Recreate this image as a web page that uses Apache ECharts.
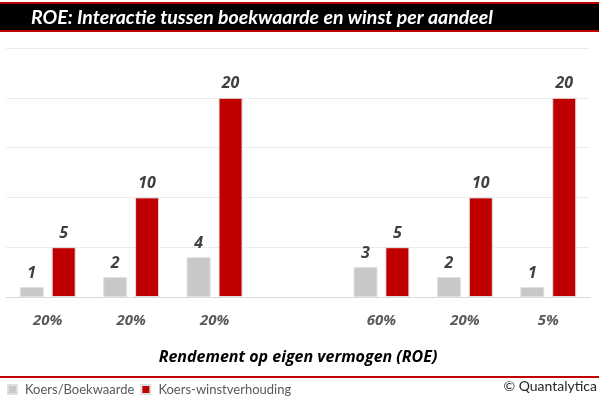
<!DOCTYPE html>
<html><head><meta charset="utf-8">
<script src="https://cdn.jsdelivr.net/npm/echarts@6/dist/echarts.min.js"></script>
<style>html,body{margin:0;padding:0;background:#fff}#c{width:599px;height:399px}</style>
</head><body><div id="c"></div>
<script>
const categories = ['20%', '20%', '20%', '', '60%', '20%', '5%'];
const koersBoekwaarde = [1, 2, 4, null, 3, 2, 1];
const koersWinst = [5, 10, 20, null, 5, 10, 20];
const seriesNames = ['Koers/Boekwaarde', 'Koers-winstverhouding'];
const titleText = 'ROE: Interactie tussen boekwaarde en winst per aandeel';
const axisName = 'Rendement op eigen vermogen (ROE)';
const credit = '© Quantalytica';

const chart = echarts.init(document.getElementById('c'), null, {renderer: 'canvas'});
const labelStyle = {show: true, position: 'top', distance: 6, fontFamily: 'Open Sans', fontStyle: 'italic', fontWeight: 'bold', fontSize: 16, color: '#404040'};
chart.setOption({
  animation: false,
  grid: {left: 6, right: 9, top: 48, bottom: 102, containLabel: false},
  xAxis: {
    type: 'category', data: categories,
    axisLine: {lineStyle: {color: '#d9d9d9'}}, axisTick: {show: false},
    axisLabel: {margin: 16, fontFamily: 'Open Sans', fontStyle: 'italic', fontWeight: 'bold', fontSize: 15, color: '#595959'},
    name: axisName, nameLocation: 'middle', nameGap: 52,
    nameTextStyle: {fontFamily: 'Open Sans', fontStyle: 'italic', fontWeight: 'bold', fontSize: 16, color: '#000'}
  },
  yAxis: {
    type: 'value', min: 0, max: 25, interval: 5,
    axisLabel: {show: false}, axisLine: {show: false}, axisTick: {show: false},
    splitLine: {lineStyle: {color: '#d9d9d9', type: [1, 1]}}
  },
  legend: {
    left: 2, top: 378, itemWidth: 9, itemHeight: 9, itemGap: 6, icon: 'rect',
    textStyle: {fontFamily: 'Lato', fontSize: 13, color: '#595959', padding: [0, 0, 0, 3]},
    data: seriesNames
  },
  series: [
    {name: seriesNames[0], type: 'bar', data: koersBoekwaarde, barWidth: 24, barGap: '33%',
     itemStyle: {color: '#c8c8c8', borderColor: '#e0e0e0', borderWidth: 1}, label: labelStyle},
    {name: seriesNames[1], type: 'bar', data: koersWinst, barWidth: 24,
     itemStyle: {color: '#c00000', borderColor: '#e0e0e0', borderWidth: 1}, label: labelStyle}
  ],
  graphic: [
    {type: 'rect', shape: {x: 0, y: 2, width: 599, height: 30}, style: {fill: '#c00000'}, silent: true},
    {type: 'rect', shape: {x: 0, y: 4, width: 599, height: 26}, style: {fill: '#000'}, silent: true},
    {type: 'text', left: 31, top: 4, style: {text: titleText, fill: '#fff', fontFamily: 'Lato', fontStyle: 'italic', fontWeight: 'bold', fontSize: 19.5, lineHeight: 27}},
    {type: 'rect', shape: {x: 0, y: 376, width: 599, height: 2}, style: {fill: '#c00000'}, silent: true},
    {type: 'text', right: 2, top: 379, style: {text: credit, fill: '#262626', fontFamily: 'Lato', fontSize: 14}}
  ]
});
</script></body></html>
